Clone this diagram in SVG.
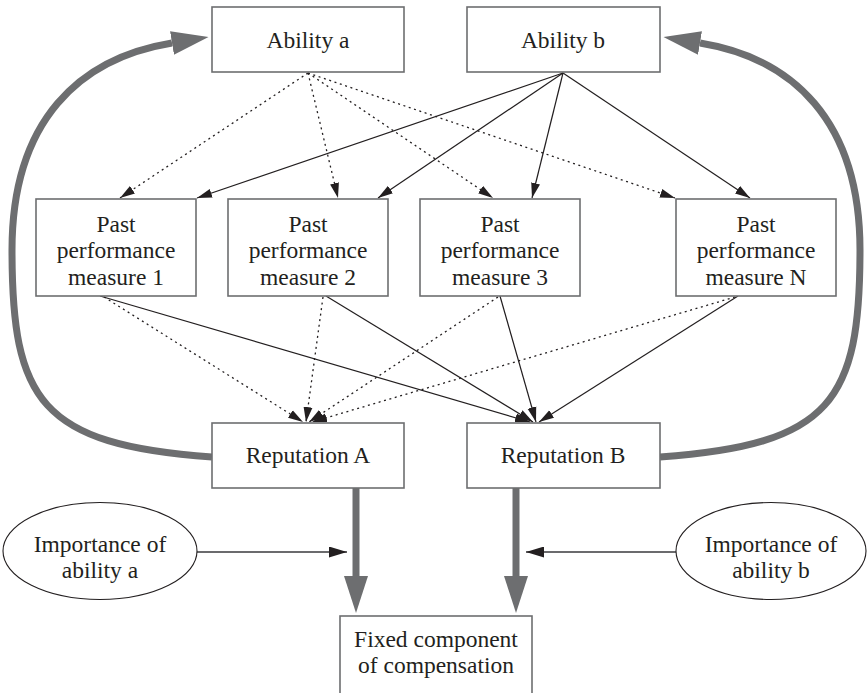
<svg xmlns="http://www.w3.org/2000/svg" width="867" height="693" viewBox="0 0 867 693">
<defs>
<style>
.box{fill:#fff;stroke:#6d6e70;stroke-width:1.6}
.ell{fill:#fff;stroke:#231f20;stroke-width:1.1}
.lbl{font-size:23.5px;fill:#231f20;text-anchor:middle}
.solid{fill:none;stroke:#231f20;stroke-width:1.2;marker-end:url(#ah)}
.dot{fill:none;stroke:#231f20;stroke-width:1.3;stroke-dasharray:2 3.6;marker-end:url(#ah)}
.thin{fill:none;stroke:#3a3a3c;stroke-width:1.3;marker-end:url(#ah2)}
.thick{fill:none;stroke:#6d6e70;stroke-width:7;marker-end:url(#gh)}
</style>
<marker id="ah" viewBox="0 0 15 10" refX="15" refY="5" markerWidth="15" markerHeight="10" markerUnits="userSpaceOnUse" orient="auto">
<path d="M0,0.5 L15,5 L0,9.5 Z" fill="#231f20"/>
</marker>
<marker id="ah2" viewBox="0 0 18 11" refX="18" refY="5.5" markerWidth="18" markerHeight="11" markerUnits="userSpaceOnUse" orient="auto">
<path d="M0,0 L18,5.5 L0,11 Z" fill="#231f20"/>
</marker>
<marker id="gh" viewBox="0 0 37 24" refX="0" refY="12" markerWidth="37" markerHeight="24" markerUnits="userSpaceOnUse" orient="auto">
<path d="M0,0 L37,12 L0,24 Z" fill="#6d6e70"/>
</marker>
</defs>

<g id="connectors">
<path class="thick" d="M212,457 C40,445 12,400 12,250 C12,120 80,58 172,43"/>
<path class="thick" d="M660,457 C832,445 860,400 860,250 C860,120 792,58 700,43"/>
<path class="thick" d="M356,488 L356,576"/>
<path class="thick" d="M516,488 L516,576"/>
<path class="thin" d="M197,552 L347,552"/>
<path class="thin" d="M676,552 L526,552"/>

<path class="dot" d="M308,73 L120,198"/>
<path class="dot" d="M308,73 L338,198"/>
<path class="dot" d="M308,73 L493,198"/>
<path class="dot" d="M308,73 L675,198"/>

<path class="solid" d="M563,73 L197,198"/>
<path class="solid" d="M563,73 L378,198"/>
<path class="solid" d="M563,73 L532,198"/>
<path class="solid" d="M563,73 L750,198"/>

<path class="dot" d="M104,297 L303,422"/>
<path class="dot" d="M323,297 L306,422"/>
<path class="dot" d="M498,297 L309,422"/>
<path class="dot" d="M735,297 L312,422"/>

<path class="solid" d="M100,296 L530,422"/>
<path class="solid" d="M326,296 L533,422"/>
<path class="solid" d="M500,296 L536,422"/>
<path class="solid" d="M738,296 L539,422"/>
</g>

<g style="font-family:'Times New Roman','Liberation Serif','DejaVu Serif',serif">
<g id="ability-a">
<rect class="box" x="212" y="7" width="192" height="65"/>
<text class="lbl" x="308" y="48">Ability a</text>
</g>
<g id="ability-b">
<rect class="box" x="467" y="7" width="193" height="65"/>
<text class="lbl" x="563" y="48">Ability b</text>
</g>

<g id="ppm1">
<rect class="box" x="36" y="199" width="160" height="97"/>
<text class="lbl" x="116" y="232">Past</text>
<text class="lbl" x="116" y="258">performance</text>
<text class="lbl" x="116" y="285">measure 1</text>
</g>
<g id="ppm2">
<rect class="box" x="228" y="199" width="160" height="97"/>
<text class="lbl" x="308" y="232">Past</text>
<text class="lbl" x="308" y="258">performance</text>
<text class="lbl" x="308" y="285">measure 2</text>
</g>
<g id="ppm3">
<rect class="box" x="420" y="199" width="160" height="97"/>
<text class="lbl" x="500" y="232">Past</text>
<text class="lbl" x="500" y="258">performance</text>
<text class="lbl" x="500" y="285">measure 3</text>
</g>
<g id="ppmN">
<rect class="box" x="676" y="199" width="160" height="97"/>
<text class="lbl" x="756" y="232">Past</text>
<text class="lbl" x="756" y="258">performance</text>
<text class="lbl" x="756" y="285">measure N</text>
</g>

<g id="reputation-a">
<rect class="box" x="212" y="423" width="192" height="65"/>
<text class="lbl" x="308" y="463">Reputation A</text>
</g>
<g id="reputation-b">
<rect class="box" x="467" y="423" width="193" height="65"/>
<text class="lbl" x="563" y="463">Reputation B</text>
</g>

<g id="importance-a">
<ellipse class="ell" cx="100" cy="551" rx="97" ry="48.5"/>
<text class="lbl" x="100" y="552">Importance of</text>
<text class="lbl" x="100" y="578">ability a</text>
</g>
<g id="importance-b">
<ellipse class="ell" cx="771" cy="551" rx="95" ry="48.5"/>
<text class="lbl" x="771" y="552">Importance of</text>
<text class="lbl" x="771" y="578">ability b</text>
</g>

<g id="fixed-component">
<rect class="box" x="340" y="616" width="192" height="90"/>
<text class="lbl" x="436" y="647">Fixed component</text>
<text class="lbl" x="436" y="673">of compensation</text>
</g>
</g>
</svg>
